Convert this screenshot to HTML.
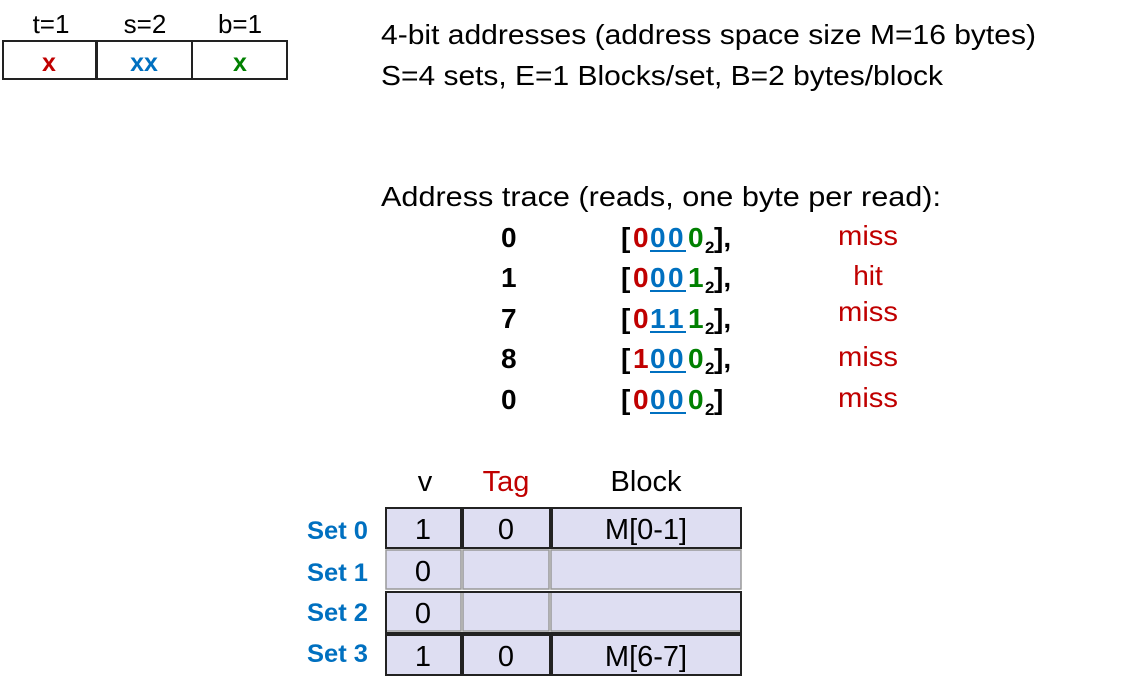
<!DOCTYPE html>
<html><head><meta charset="utf-8"><style>
html,body{margin:0;padding:0;background:#fff;}
svg{display:block;}
text{font-family:"Liberation Sans",sans-serif;}
</style></head><body>
<svg width="1123" height="682" viewBox="0 0 1123 682" xmlns="http://www.w3.org/2000/svg">
<g font-size="26" fill="#000" text-anchor="middle">
<text x="51" y="33">t=1</text>
<text x="145" y="33">s=2</text>
<text x="240" y="33">b=1</text>
</g>
<g fill="#fff" stroke="#222" stroke-width="2">
<rect x="3" y="41" width="93" height="38"/>
<rect x="97" y="41" width="95" height="38"/>
<rect x="192" y="41" width="95" height="38"/>
</g>
<g font-size="25" font-weight="bold" text-anchor="middle">
<text x="49" y="71" fill="#C00000">x</text>
<text x="144" y="71" fill="#0070C0">xx</text>
<text x="240" y="71" fill="#008000">x</text>
</g>

<g font-size="28" fill="#000">
<text x="381" y="44" textLength="655" lengthAdjust="spacingAndGlyphs">4-bit addresses (address space size M=16 bytes)</text>
<text x="381" y="85" textLength="562" lengthAdjust="spacingAndGlyphs">S=4 sets, E=1 Blocks/set, B=2 bytes/block</text>
<text x="381" y="206" textLength="560" lengthAdjust="spacingAndGlyphs">Address trace (reads, one byte per read):</text>
</g>

<g font-size="28" font-weight="bold">
<text x="501" y="247">0</text>
<text x="501" y="287">1</text>
<text x="501" y="328">7</text>
<text x="501" y="368">8</text>
<text x="501" y="409">0</text>
</g>
<g font-size="28" font-weight="bold">
<g>
<text x="621" y="247">[</text><text x="633" y="247" fill="#C00000">0</text><text x="650" y="247" fill="#0070C0">0</text><text x="668" y="247" fill="#0070C0">0</text><text x="688" y="247" fill="#008000">0</text><text x="705" y="253" font-size="17">2</text><text x="714" y="247">],</text>
</g>
<g>
<text x="621" y="287">[</text><text x="633" y="287" fill="#C00000">0</text><text x="650" y="287" fill="#0070C0">0</text><text x="668" y="287" fill="#0070C0">0</text><text x="688" y="287" fill="#008000">1</text><text x="705" y="293" font-size="17">2</text><text x="714" y="287">],</text>
</g>
<g>
<text x="621" y="328">[</text><text x="633" y="328" fill="#C00000">0</text><text x="650" y="328" fill="#0070C0">1</text><text x="668" y="328" fill="#0070C0">1</text><text x="688" y="328" fill="#008000">1</text><text x="705" y="334" font-size="17">2</text><text x="714" y="328">],</text>
</g>
<g>
<text x="621" y="368">[</text><text x="633" y="368" fill="#C00000">1</text><text x="650" y="368" fill="#0070C0">0</text><text x="668" y="368" fill="#0070C0">0</text><text x="688" y="368" fill="#008000">0</text><text x="705" y="374" font-size="17">2</text><text x="714" y="368">],</text>
</g>
<g>
<text x="621" y="409">[</text><text x="633" y="409" fill="#C00000">0</text><text x="650" y="409" fill="#0070C0">0</text><text x="668" y="409" fill="#0070C0">0</text><text x="688" y="409" fill="#008000">0</text><text x="705" y="415" font-size="17">2</text><text x="714" y="409">]</text>
</g>
</g>
<g stroke="#0070C0" stroke-width="2">
<line x1="650" y1="251" x2="686" y2="251"/>
<line x1="650" y1="291" x2="686" y2="291"/>
<line x1="650" y1="332" x2="686" y2="332"/>
<line x1="650" y1="372" x2="686" y2="372"/>
<line x1="650" y1="413" x2="686" y2="413"/>
</g>
<g font-size="28" fill="#C00000" text-anchor="middle">
<text x="868" y="245" textLength="60" lengthAdjust="spacingAndGlyphs">miss</text>
<text x="868" y="285">hit</text>
<text x="868" y="321" textLength="60" lengthAdjust="spacingAndGlyphs">miss</text>
<text x="868" y="366" textLength="60" lengthAdjust="spacingAndGlyphs">miss</text>
<text x="868" y="407" textLength="60" lengthAdjust="spacingAndGlyphs">miss</text>
</g>

<g font-size="29" text-anchor="middle">
<text x="425" y="491" fill="#000">v</text>
<text x="506" y="491" fill="#C00000">Tag</text>
<text x="646" y="491" fill="#000">Block</text>
</g>
<g fill="#DEDEF2" stroke="#222" stroke-width="2">
<rect x="386" y="508" width="75" height="40"/>
<rect x="463" y="508" width="87" height="40"/>
<rect x="552" y="508" width="189" height="40"/>
</g>
<g fill="#DEDEF2" stroke="#999" stroke-width="1.5">
<rect x="386" y="550" width="75" height="39"/>
<rect x="463" y="550" width="86" height="39"/>
<rect x="551" y="550" width="190" height="39"/>
<rect x="386" y="592" width="75" height="39"/>
<rect x="463" y="592" width="86" height="39"/>
<rect x="551" y="592" width="190" height="39"/>
</g>
<g fill="none" stroke="#222" stroke-width="2">
<rect x="386" y="592" width="355" height="41"/>
</g>
<g fill="#DEDEF2" stroke="#222" stroke-width="2">
<rect x="386" y="635" width="75" height="40"/>
<rect x="463" y="635" width="87" height="40"/>
<rect x="552" y="635" width="189" height="40"/>
</g>
<g font-size="29" fill="#000" text-anchor="middle">
<text x="423" y="539">1</text>
<text x="506" y="539">0</text>
<text x="646" y="539">M[0-1]</text>
<text x="423" y="581">0</text>
<text x="423" y="623">0</text>
<text x="423" y="666">1</text>
<text x="506" y="666">0</text>
<text x="646" y="666">M[6-7]</text>
</g>
<g font-size="25" font-weight="bold" fill="#0070C0">
<text x="307" y="539" textLength="61" lengthAdjust="spacingAndGlyphs">Set 0</text>
<text x="307" y="581" textLength="61" lengthAdjust="spacingAndGlyphs">Set 1</text>
<text x="307" y="621" textLength="61" lengthAdjust="spacingAndGlyphs">Set 2</text>
<text x="307" y="662" textLength="61" lengthAdjust="spacingAndGlyphs">Set 3</text>
</g>
</svg>
</body></html>
